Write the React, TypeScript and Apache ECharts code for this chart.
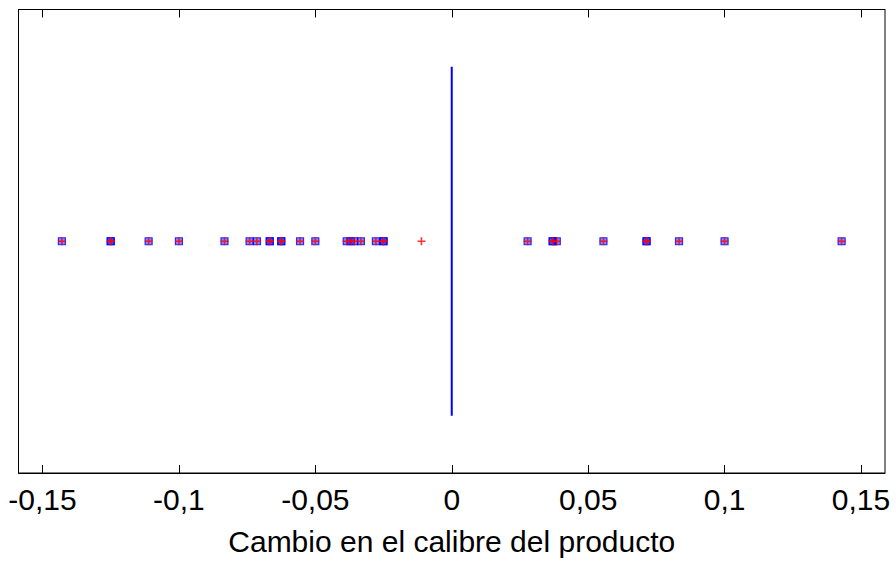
import React, { useEffect, useRef } from "react";
import * as echarts from "echarts";

const tickValues = [-0.15, -0.1, -0.05, 0, 0.05, 0.1, 0.15];
const xTitle = "Cambio en el calibre del producto";
const boxStats = [0, 0, 0, 0, 0];
const outliersWithSquare = [
  -0.1429, -0.125, -0.125, -0.1111, -0.1, -0.0833, -0.0741, -0.0714, -0.0667, -0.0667,
  -0.0625, -0.0625, -0.0556, -0.05, -0.0385, -0.037, -0.0357, -0.0333, -0.0278, -0.025, -0.025,
  0.0278, 0.037, 0.037, 0.0385, 0.0556, 0.0714, 0.0714, 0.0833, 0.1, 0.1429,
];
const outliersPlusOnly = [-0.0111];

const fmt = (v: number) => {
  if (Math.abs(v) < 1e-9) return "0";
  return String(+v.toFixed(2)).replace(".", ",");
};

export default function App() {
  const ref = useRef<HTMLDivElement>(null);
  useEffect(() => {
    if (!ref.current) return;
    const chart = echarts.init(ref.current, null, { renderer: "svg" });
    const font = "'Liberation Sans', Arial, sans-serif";
    const plusPath = "path://M4,0h2v4h4v2h-4v4h-2v-4h-4v-2h4z";
    const allOut = outliersWithSquare.concat(outliersPlusOnly);
    chart.setOption({
      animation: false,
      backgroundColor: "#fff",
      grid: {
        left: 18.5,
        top: 9.5,
        width: 866.5,
        height: 463.5,
        show: true,
        borderColor: "#000",
        borderWidth: 1,
      },
      xAxis: [
        {
          type: "value",
          min: -0.1588,
          max: 0.1588,
          position: "bottom",
          splitLine: { show: false },
          axisLine: { show: true, onZero: false, lineStyle: { color: "#000", width: 1 } },
          axisTick: {
            show: true,
            inside: true,
            length: 8,
            customValues: tickValues,
            lineStyle: { color: "#000", width: 1 },
          },
          axisLabel: {
            show: true,
            customValues: tickValues,
            formatter: (v: number) => fmt(v),
            color: "#000",
            fontFamily: font,
            fontSize: 30,
            margin: 11,
          },
          name: xTitle,
          nameLocation: "middle",
          nameGap: 53,
          nameTextStyle: { color: "#000", fontFamily: font, fontSize: 30 },
        },
        {
          type: "value",
          min: -0.1588,
          max: 0.1588,
          position: "top",
          splitLine: { show: false },
          axisLine: { show: true, onZero: false, lineStyle: { color: "#000", width: 1 } },
          axisTick: {
            show: true,
            inside: true,
            length: 8,
            customValues: tickValues,
            lineStyle: { color: "#000", width: 1 },
          },
          axisLabel: { show: false },
        },
      ],
      yAxis: {
        type: "category",
        data: ["1"],
        axisLine: { show: false, onZero: false },
        axisTick: { show: false },
        axisLabel: { show: false },
        splitLine: { show: false },
      },
      series: [
        {
          type: "boxplot",
          xAxisIndex: 0,
          data: [boxStats],
          boxWidth: [349, 349],
          itemStyle: { color: "#0000ff", borderColor: "#0000ff", borderWidth: 2 },
          emphasis: { disabled: true },
        },
        {
          type: "scatter",
          xAxisIndex: 0,
          data: outliersWithSquare.map((v) => [v, 0]),
          symbol: "rect",
          symbolSize: 7,
          itemStyle: { color: "rgba(0,0,255,0.6)", borderColor: "#0000ff", borderWidth: 1.2 },
          z: 3,
        },
        {
          type: "scatter",
          xAxisIndex: 0,
          data: allOut.map((v) => [v, 0]),
          symbol: plusPath,
          symbolSize: 8,
          itemStyle: { color: "#ff0000" },
          z: 4,
        },
      ],
    });
    return () => chart.dispose();
  }, []);
  return <div ref={ref} style={{ width: 896, height: 566, position: "absolute", left: 0, top: 0 }} />;
}
